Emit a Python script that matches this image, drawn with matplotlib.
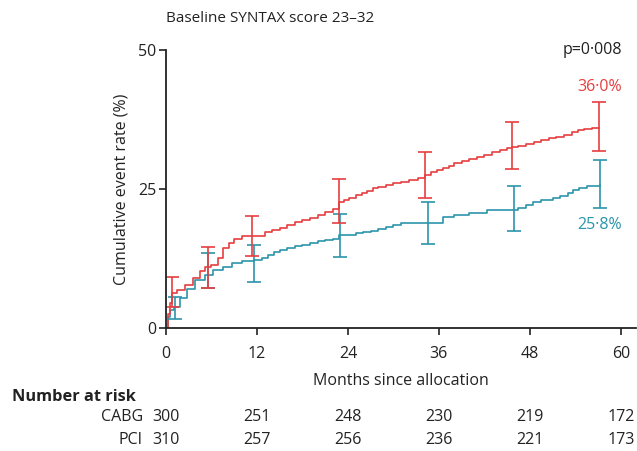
import numpy as np
import matplotlib.pyplot as plt
from matplotlib import transforms

plt.rcParams['font.family'] = ['Open Sans', 'DejaVu Sans']

# step curves (month, cumulative event rate %)
pci_t = [0, 0.2, 0.5, 0.8, 1.5, 2.5, 3.5, 4.5, 5.2, 6.0, 6.8, 7.5, 8.3, 9.0, 10.0, 12.2,
         13.0, 14.0, 15.0, 16.0, 17.0, 18.0, 19.0, 20.0, 21.0, 22.0, 22.8, 23.5, 24.2,
         25.0, 25.8, 26.5, 27.3, 28.0, 29.0, 30.0, 31.0, 32.0, 33.3, 34.2, 35.0, 35.7,
         36.5, 37.3, 38.0, 39.0, 40.0, 41.0, 42.0, 43.0, 44.0, 45.0, 45.6, 46.5, 47.5,
         48.5, 49.5, 50.5, 51.5, 52.5, 53.5, 54.3, 55.2, 56.2, 57.1]
pci_y = [0, 2.5, 4.5, 6.3, 6.8, 7.8, 9.0, 10.2, 11.0, 11.3, 12.6, 14.4, 15.2, 16.0, 16.5, 16.5,
         17.2, 17.6, 18.0, 18.6, 19.0, 19.4, 19.8, 20.3, 20.8, 21.4, 22.7, 23.0, 23.4,
         23.9, 24.3, 24.7, 25.1, 25.4, 25.7, 26.0, 26.3, 26.6, 26.9, 27.5, 28.0, 28.4,
         28.8, 29.2, 29.6, 30.0, 30.4, 30.8, 31.2, 31.6, 32.0, 32.3, 32.6, 32.8, 33.1,
         33.4, 33.8, 34.1, 34.4, 34.8, 35.2, 35.6, 35.8, 36.0, 36.0]
cabg_t = [0, 0.2, 0.5, 1.0, 1.8, 2.8, 3.8, 5.1, 6.2, 7.5, 8.7, 10.0, 11.6, 12.7, 13.5,
          14.3, 15.0, 16.0, 17.0, 18.0, 19.0, 20.0, 21.0, 22.0, 22.8, 24.0, 25.0, 26.0,
          27.0, 28.0, 29.0, 30.0, 31.0, 36.5, 38.0, 40.0, 42.3, 46.5, 47.5, 48.4, 49.5,
          51.0, 52.0, 53.0, 53.7, 54.5, 55.5, 57.3]
cabg_y = [0, 2.0, 3.2, 3.8, 5.4, 7.0, 8.6, 9.5, 10.4, 11.0, 11.7, 12.0, 12.2, 12.6, 13.2,
          13.6, 14.0, 14.4, 14.7, 15.0, 15.3, 15.6, 15.8, 16.0, 16.7, 16.8, 17.0, 17.2,
          17.5, 17.8, 18.2, 18.6, 18.9, 20.0, 20.3, 20.7, 21.2, 21.6, 22.2, 22.7, 23.0,
          23.4, 23.8, 24.3, 24.8, 25.1, 25.5, 25.8]

# 95% CI bars
pci_eb_t = [0.8, 5.5, 11.3, 22.8, 34.2, 45.6, 57.1]
pci_eb_y = [6.3, 11.3, 16.4, 22.7, 27.5, 32.6, 36.1]
pci_lo = [3.8, 7.2, 12.9, 18.9, 23.4, 28.6, 31.8]
pci_hi = [9.2, 14.6, 20.1, 26.8, 31.7, 37.1, 40.6]
cabg_eb_t = [1.2, 5.6, 11.6, 23.0, 34.5, 45.9, 57.3]
cabg_eb_y = [3.8, 10.2, 12.2, 16.7, 18.9, 21.2, 25.6]
cabg_lo = [1.6, 7.2, 8.3, 12.8, 15.1, 17.4, 21.6]
cabg_hi = [5.6, 13.5, 14.9, 20.5, 22.7, 25.5, 30.2]

risk_months = [0, 12, 24, 36, 48, 60]
risk_cabg = [300, 251, 248, 230, 219, 172]
risk_pci = [310, 257, 256, 236, 221, 173]

red = '#e63e3f'
teal = '#2b95aa'
ink = '#222222'
fs = 11.5

fig = plt.figure(figsize=(6.37, 4.51), dpi=100)
ax = fig.add_axes([166/637, 1-328/451, 470/637, 278/451])

ax.step(cabg_t, cabg_y, where='post', color=teal, lw=1.2)
ax.step(pci_t, pci_y, where='post', color=red, lw=1.2)
ax.errorbar(cabg_eb_t, cabg_eb_y,
            yerr=[np.array(cabg_eb_y)-np.array(cabg_lo), np.array(cabg_hi)-np.array(cabg_eb_y)],
            fmt='none', ecolor=teal, elinewidth=1.2, capsize=5, capthick=1.2)
ax.errorbar(pci_eb_t, pci_eb_y,
            yerr=[np.array(pci_eb_y)-np.array(pci_lo), np.array(pci_hi)-np.array(pci_eb_y)],
            fmt='none', ecolor=red, elinewidth=1.2, capsize=5, capthick=1.2)

ax.set_xlim(0, 62)
ax.set_ylim(0, 50)
ax.set_xticks(risk_months)
ax.set_yticks([0, 25, 50])
for s in ['top', 'right']:
    ax.spines[s].set_visible(False)
for s in ['left', 'bottom']:
    ax.spines[s].set_linewidth(1.3)
    ax.spines[s].set_color(ink)
ax.tick_params(length=5, width=1.2, labelsize=fs, color=ink, labelcolor=ink)
ax.tick_params(axis='x', pad=8)
ax.tick_params(axis='y', pad=2)
ax.set_ylabel('Cumulative event rate (%)', fontsize=fs, color=ink, labelpad=6)
ax.set_xlabel('Months since allocation', fontsize=fs, color=ink, labelpad=8)

ax.text(0.0, 1.115, 'Baseline SYNTAX score 23\u201332', transform=ax.transAxes,
        fontsize=11, color=ink, ha='left', va='center')
ax.text(60.2, 50, 'p=0\u00b7008', fontsize=fs, color=ink, ha='right', va='center')
ax.text(60.2, 43.3, '36\u00b70%', fontsize=fs, color=red, ha='right', va='center')
ax.text(60.2, 18.5, '25\u00b78%', fontsize=fs, color=teal, ha='right', va='center')

tr = transforms.blended_transform_factory(ax.transData, fig.transFigure)
fig.text(12/637, 1-397/451, 'Number at risk', fontsize=11.8, fontweight='bold',
         color=ink, ha='left', va='center')
fig.text(143/637, 1-417/451, 'CABG', fontsize=fs, color=ink, ha='right', va='center')
fig.text(143/637, 1-440/451, 'PCI', fontsize=fs, color=ink, ha='right', va='center')
for m, c, p in zip(risk_months, risk_cabg, risk_pci):
    ax.text(m, 1-417/451, str(c), transform=tr, fontsize=fs, color=ink,
            ha='center', va='center', clip_on=False)
    ax.text(m, 1-440/451, str(p), transform=tr, fontsize=fs, color=ink,
            ha='center', va='center', clip_on=False)

fig.savefig('out.png', dpi=100)
